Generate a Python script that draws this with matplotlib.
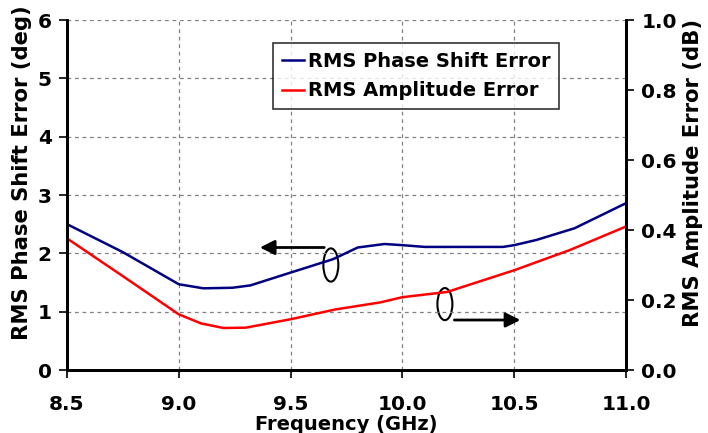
import matplotlib
matplotlib.use("Agg")
import matplotlib.pyplot as plt
from matplotlib.patches import Ellipse

plt.rcParams['font.family'] = ['DejaVu Sans']
plt.rcParams['font.weight'] = 'bold'

freq_phase = [8.5, 8.75, 9.0, 9.11, 9.24, 9.32, 9.5, 9.69, 9.8, 9.92, 10.0, 10.1, 10.45, 10.5, 10.6, 10.77, 11.0]
phase_err = [2.50, 2.02, 1.47, 1.40, 1.41, 1.45, 1.67, 1.90, 2.10, 2.16, 2.14, 2.11, 2.11, 2.14, 2.23, 2.43, 2.86]

freq_amp = [8.5, 8.75, 9.0, 9.1, 9.2, 9.3, 9.5, 9.7, 9.9, 10.0, 10.2, 10.5, 10.75, 11.0]
amp_err = [0.376, 0.268, 0.159, 0.133, 0.120, 0.121, 0.145, 0.173, 0.193, 0.208, 0.223, 0.285, 0.343, 0.41]

x_ticks = [8.5, 9.0, 9.5, 10.0, 10.5, 11.0]
y_left_ticks = [0, 1, 2, 3, 4, 5, 6]
y_right_ticks = [0.0, 0.2, 0.4, 0.6, 0.8, 1.0]

fig = plt.figure(figsize=(7.08, 4.33), dpi=100)
ax = fig.add_axes([67/708, 1-370/433, (626-67)/708, (370-20)/433])
ax2 = ax.twinx()

l1, = ax.plot(freq_phase, phase_err, color='#000080', lw=1.8, label='RMS Phase Shift Error')
l2, = ax2.plot(freq_amp, amp_err, color='#ff0000', lw=1.8, label='RMS Amplitude Error')

ax.set_xlim(8.5, 11.0)
ax.set_ylim(0, 6)
ax2.set_ylim(0, 1.0)
ax.set_xticks(x_ticks)
ax.set_xticklabels([f"{v:.1f}" for v in x_ticks])
ax.set_yticks(y_left_ticks)
ax2.set_yticks(y_right_ticks)
ax2.set_yticklabels([f"{v:.1f}" for v in y_right_ticks])

ax.grid(True, color='#808080', linestyle=(0, (3, 3)), lw=0.9)
for a in (ax, ax2):
    for s in a.spines.values():
        s.set_linewidth(2)
    a.tick_params(direction='out', length=6, width=1.2, labelsize=14.5, pad=5)
ax.tick_params(axis='x', pad=12)
ax2.spines['top'].set_visible(False)
ax.spines['top'].set_visible(False)

ax.set_xlabel('Frequency (GHz)', fontsize=14, fontweight='bold', labelpad=1)
ax.set_ylabel('RMS Phase Shift Error (deg)', fontsize=15.2, fontweight='bold')
ax2.set_ylabel('RMS Amplitude Error (dB)', fontsize=15.2, fontweight='bold')
ax.yaxis.set_label_coords(-0.0626, 0.563)
ax2.yaxis.set_label_coords(1.102, 0.563)

leg = ax.legend(handles=[l1, l2], loc='upper left',
                bbox_to_anchor=(273/708, 1-43/433), bbox_transform=fig.transFigure,
                frameon=True, fancybox=False, edgecolor='black', fontsize=14,
                handlelength=1.15, handletextpad=0.2, borderpad=0.45, labelspacing=0.55,
                borderaxespad=0)
leg.get_frame().set_linewidth(1.2)

# annotations: arrows and ellipses
ax.annotate('', xy=(9.35, 2.10), xytext=(9.663, 2.10),
            arrowprops=dict(arrowstyle='-|>', color='black', lw=2, mutation_scale=22))
ax.add_patch(Ellipse((9.68, 1.80), 0.067, 0.57, fill=False, edgecolor='black', lw=1.5))
ax.add_patch(Ellipse((10.19, 1.13), 0.067, 0.55, fill=False, edgecolor='black', lw=1.5))
ax.annotate('', xy=(10.54, 0.857), xytext=(10.22, 0.857),
            arrowprops=dict(arrowstyle='-|>', color='black', lw=2, mutation_scale=22))

fig.savefig('out.png', dpi=100)
